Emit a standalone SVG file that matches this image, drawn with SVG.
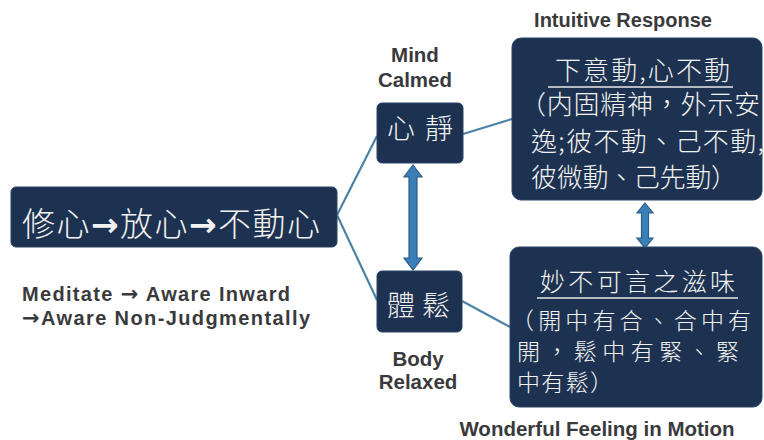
<svg xmlns="http://www.w3.org/2000/svg" width="764" height="440" viewBox="0 0 764 440">
<defs>
<style>
.box{fill:#1d3250;stroke:#2a4466;stroke-width:1}
.cjk{font-family:"Noto Sans CJK TC","Noto Sans CJK SC",sans-serif;fill:#f2f2f2;font-weight:300}
.arr{font-family:"DejaVu Sans",sans-serif;font-weight:bold}
.lbl{font-family:"Liberation Sans",Arial,sans-serif;font-weight:bold;fill:#3a3a3c}
.conn{stroke:#4c82a4;stroke-width:2.2;fill:none}
.dbl{fill:#3b7fb8;stroke:#2a5d86;stroke-width:1.2}
.ul{stroke:#e8e8e8;stroke-width:1.5}
</style>
</defs>
<rect width="764" height="440" fill="#ffffff"/>
<g id="connectors">
<polyline class="conn" points="377,136 337,215 377,300"/>
<line class="conn" x1="463" y1="134" x2="512" y2="119"/>
<line class="conn" x1="462" y1="301" x2="510" y2="327"/>
<path class="dbl" d="M413,165 L422,177 L417,177 L417,258 L422,258 L413,270 L404,258 L409,258 L409,177 L404,177 Z"/>
<path class="dbl" d="M645,203 L653,213 L648.5,213 L648.5,238 L653,238 L645,248 L637,238 L641.5,238 L641.5,213 L637,213 Z"/>
</g>
<g id="main">
<rect class="box" x="11" y="187" width="326" height="60" rx="5"/>
<text class="cjk" x="22" y="236" font-size="33" textLength="298" lengthAdjust="spacing">修心<tspan class="arr">→</tspan>放心<tspan class="arr">→</tspan>不動心</text>
</g>
<g id="meditate">
<text class="lbl" x="22" y="301" font-size="20" textLength="268" lengthAdjust="spacing">Meditate <tspan class="arr" font-size="21">→</tspan> Aware Inward</text>
<text class="lbl" x="22" y="325" font-size="20" textLength="288" lengthAdjust="spacing"><tspan class="arr" font-size="21">→</tspan>Aware Non-Judgmentally</text>
</g>
<g id="mind">
<text class="lbl" x="415" y="62" font-size="20.5" text-anchor="middle">Mind</text>
<text class="lbl" x="415" y="87" font-size="20.5" text-anchor="middle">Calmed</text>
<rect class="box" x="377" y="103" width="86" height="60" rx="5"/>
<text class="cjk" x="387" y="139" font-size="28" textLength="66" lengthAdjust="spacing">心靜</text>
</g>
<g id="body">
<rect class="box" x="377" y="271" width="85" height="61" rx="5"/>
<text class="cjk" x="387" y="316" font-size="28" textLength="63" lengthAdjust="spacing">體鬆</text>
<text class="lbl" x="418" y="366" font-size="20.5" text-anchor="middle">Body</text>
<text class="lbl" x="418" y="389" font-size="20.5" text-anchor="middle">Relaxed</text>
</g>
<g id="intuitive">
<text class="lbl" x="623" y="27" text-anchor="middle" font-size="20">Intuitive Response</text>
<rect class="box" x="512" y="38" width="250" height="162" rx="9"/>
<text class="cjk" x="555" y="80" font-size="26" textLength="175" lengthAdjust="spacing">下意動,心不動</text>
<line class="ul" x1="548" y1="87" x2="733" y2="87"/>
<text class="cjk" x="520" y="114" font-size="26" textLength="240" lengthAdjust="spacing">（内固精神，外示安</text>
<text class="cjk" x="531" y="151" font-size="26" textLength="233" lengthAdjust="spacing">逸;彼不動、己不動,</text>
<text class="cjk" x="531" y="187" font-size="26" textLength="206" lengthAdjust="spacing">彼微動、己先動）</text>
</g>
<g id="wonderful">
<rect class="box" x="510" y="247" width="252" height="160" rx="9"/>
<text class="cjk" x="540" y="291" font-size="25" textLength="195" lengthAdjust="spacing">妙不可言之滋味</text>
<line class="ul" x1="537" y1="298" x2="738" y2="298"/>
<text class="cjk" x="511" y="329" font-size="23" textLength="240" lengthAdjust="spacing">（開中有合、合中有</text>
<text class="cjk" x="517" y="360" font-size="23" textLength="222" lengthAdjust="spacing">開，鬆中有緊、緊</text>
<text class="cjk" x="517" y="391" font-size="23" textLength="96" lengthAdjust="spacing">中有鬆）</text>
<text class="lbl" x="597" y="436" font-size="20.5" text-anchor="middle">Wonderful Feeling in Motion</text>
</g>
</svg>
